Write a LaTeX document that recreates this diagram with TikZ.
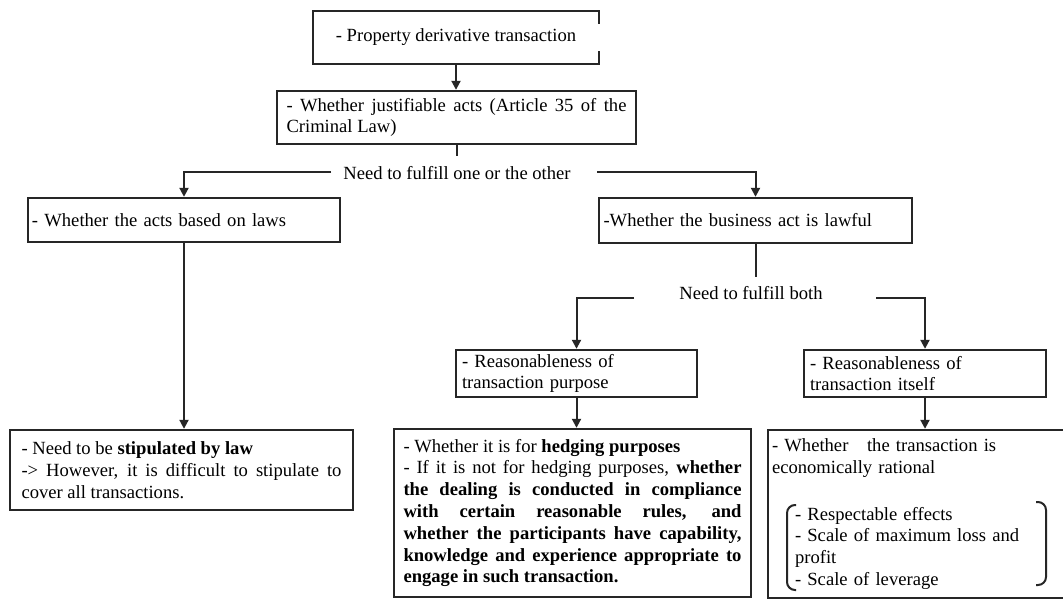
\documentclass[tikz,border=0pt]{standalone}
\usepackage{fontspec}
\setmainfont{Liberation Serif}
\usepackage{tikz}
\usetikzlibrary{calc,arrows.meta}
\newcommand{\boxfont}{\fontsize{9.3pt}{10.9pt}\selectfont}
\tikzset{
  box/.style={draw=black!85, line width=1.2pt, fill=white, inner xsep=2pt, inner ysep=1pt, align=left, font=\boxfont},
  conn/.style={draw=black!85, line width=1pt},
  arr/.style={conn, -{Triangle[width=4.5pt,length=4.5pt]}},
  note/.style={font=\boxfont, inner sep=0pt},
  brk/.style={draw=black!85, line width=1pt, rounded corners=4pt},
}

\begin{document}
\begin{tikzpicture}[x=0.5pt,y=-0.5pt]
\useasboundingbox (0,0) rectangle (1063,599);
\fill[white] (0,0) rectangle (1063,599);
\clip (0,0) rectangle (1063,599);

\node[box, minimum width=143pt, minimum height=26.5pt, align=center] (prop) at (456,37.5) {- Property derivative transaction};
\draw[white, line width=2pt] ($(prop.north east)+(0,14)$) -- ($(prop.north east)+(0,41)$);
\node[box, minimum width=179.5pt, minimum height=26.5pt, text width=170pt, align=justify] (just) at (456.5,117.5)
  {- Whether justifiable acts (Article 35 of the\linebreak Criminal Law)};
\node[box, minimum width=156pt, minimum height=22pt, text width=152pt] (laws) at (184,220) {- Whether the acts based on laws};
\node[box, minimum width=156.5pt, minimum height=22.5pt, text width=152pt] (lawful) at (755.5,220.5) {-Whether the business act is lawful};
\node[box, minimum width=120.5pt, minimum height=23.5pt, text width=114.5pt] (purpose) at (576.5,373.5) {- Reasonableness of\\transaction purpose};
\node[box, minimum width=121pt, minimum height=23.5pt, text width=115pt] (itself) at (925,373.5) {- Reasonableness of\\transaction itself};
\node[box, minimum width=171.5pt, minimum height=40pt, text width=160pt, align=justify] (lawbox) at (181.5,470)
  {- Need to be \textbf{stipulated by law}\\
   -> However, it is difficult to stipulate to\linebreak cover all transactions.};
\node[box, minimum width=178.5pt, minimum height=84pt, text width=169pt, align=justify] (hedge) at (572.5,513)
  {- Whether it is for \textbf{hedging purposes}\\
   - If it is not for hedging purposes, \textbf{whether\linebreak the dealing is conducted in compliance\linebreak
   with certain reasonable rules, and\linebreak whether the participants have capability,\linebreak
   knowledge and experience appropriate to\linebreak engage in such transaction.}};
\node[box, minimum width=154pt, minimum height=84pt, text width=150pt] (econ) at (922,514)
  {- Whether\quad the transaction is\\economically rational\\[12.5pt]
   \hspace*{11.5pt}\parbox[t]{118pt}{- Respectable effects\\
   - Scale of maximum loss and\linebreak profit\\
   - Scale of leverage}};
\draw[brk] (796,505) -- (787,505) -- (787,590) -- (796,590);
\draw[brk] (1036,502) -- (1046,502) -- (1046,585) -- (1036,585);

\node[note] (oneother) at (457,173) {Need to fulfill one or the other};
\coordinate (c1) at (456.5,156);
\coordinate (l1) at (331,172);
\coordinate (r1) at (597,172);
\node[note] (both) at (751,293) {Need to fulfill both};
\coordinate (c2) at (755.5,277);
\coordinate (l2) at (634,298);
\coordinate (r2) at (876,298);

\draw[arr] (prop.south) -- (prop.south |- just.north);
\draw[conn] (just.south) -- (c1);
\draw[arr] (l1) -| (laws.north);
\draw[arr] (r1) -| (lawful.north);
\draw[arr] (laws.south) -- (laws.south |- lawbox.north);
\draw[conn] (lawful.south) -- (c2);
\draw[arr] (l2) -| (purpose.north);
\draw[arr] (r2) -| (itself.north);
\draw[arr] (purpose.south) -- (purpose.south |- hedge.north);
\draw[arr] (itself.south) -- (itself.south |- econ.north);
\end{tikzpicture}
\end{document}
